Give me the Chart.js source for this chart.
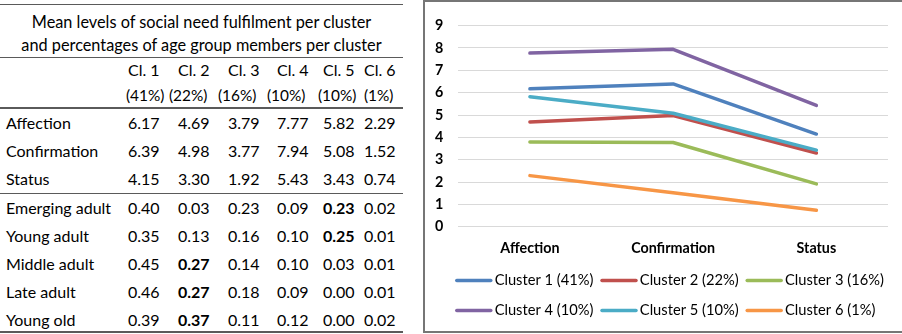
<!DOCTYPE html>
<html>
<head>
<meta charset="utf-8">
<script src="https://cdn.jsdelivr.net/npm/chart.js@4"></script>
<style>
  html, body { margin: 0; padding: 0; width: 902px; height: 334px; overflow: hidden; background: #fff; }
  #table { position: absolute; left: 0; top: 0; width: 410px; height: 334px;
           font-family: Lato, "Noto Sans", sans-serif; font-size: 16px; color: #000; }
  .rule { position: absolute; left: 0; width: 403px; background: #5a5a5a; }
  .t { position: absolute; white-space: pre; line-height: 20px; height: 20px; }
  .b { font-weight: bold; }
  .title { font-size: 16.3px; }
  .pct { font-size: 15.4px; }
  #box { position: absolute; left: 423px; top: 0; width: 500px; height: 329px; border: 2px solid #767676; }
  #chart { position: absolute; left: 425px; top: 2px; }
</style>
</head>
<body>
<div id="table"></div>
<div id="box"></div>
<canvas id="chart" width="477" height="332"></canvas>
<script>
// Social needs measured per cluster
const categories = ['Affection', 'Confirmation', 'Status'];

// Cluster labels and their share of the sample
const clusterCodes = ['Cl. 1', 'Cl. 2', 'Cl. 3', 'Cl. 4', 'Cl. 5', 'Cl. 6'];
const clusterShares = ['41%', '22%', '16%', '10%', '10%', '1%'];

// Mean need fulfilment per cluster (Affection, Confirmation, Status)
const cluster1 = [6.17, 6.39, 4.15];
const cluster2 = [4.69, 4.98, 3.30];
const cluster3 = [3.79, 3.77, 1.92];
const cluster4 = [7.77, 7.94, 5.43];
const cluster5 = [5.82, 5.08, 3.43];
const cluster6 = [2.29, 1.52, 0.74];

// Share of each age group falling in clusters 1..6
const ageGroups = ['Emerging adult', 'Young adult', 'Middle adult', 'Late adult', 'Young old'];
const emergingAdult = [0.40, 0.03, 0.23, 0.09, 0.23, 0.02];
const youngAdult    = [0.35, 0.13, 0.16, 0.10, 0.25, 0.01];
const middleAdult   = [0.45, 0.27, 0.14, 0.10, 0.03, 0.01];
const lateAdult     = [0.46, 0.27, 0.18, 0.09, 0.00, 0.01];
const youngOld      = [0.39, 0.37, 0.11, 0.12, 0.00, 0.02];
// Cluster (0-based) highlighted for each age group
const highlighted = [4, 4, 1, 1, 1];

// Y axis range
const yMin = 0, yMax = 9, yStep = 1;

const clusters = [cluster1, cluster2, cluster3, cluster4, cluster5, cluster6];
const ageShares = [emergingAdult, youngAdult, middleAdult, lateAdult, youngOld];

/* ---------- table ---------- */
const table = document.getElementById('table');
const colX = [128, 178, 228, 277, 323, 364];
const pctX = [126, 169, 218, 267, 318, 364];

function rule(y, h) {
  const d = document.createElement('div');
  d.className = 'rule';
  d.style.top = y + 'px';
  d.style.height = h + 'px';
  table.appendChild(d);
}
function text(str, x, yc, opts = {}) {
  const d = document.createElement('div');
  d.className = 't' + (opts.bold ? ' b' : '') + (opts.cls ? ' ' + opts.cls : '');
  d.textContent = str;
  d.style.top = (yc - 10) + 'px';
  if (opts.center) { d.style.left = '0px'; d.style.width = '403px'; d.style.textAlign = 'center'; }
  else d.style.left = x + 'px';
  table.appendChild(d);
  return d;
}

rule(4, 1);
text('Mean levels of social need fulfilment per cluster', 0, 22, {center: true, cls: 'title'});
text('and percentages of age group members per cluster', 0, 45, {center: true, cls: 'title'});
rule(57, 1);
clusterCodes.forEach((c, i) => text(c, colX[i], 70));
clusterShares.forEach((p, i) => text('(' + p + ')', pctX[i], 95, {cls: 'pct'}));
rule(107, 2);
categories.forEach((cat, r) => {
  const y = 123 + r * 28;
  text(cat, 6, y);
  clusters.forEach((s, i) => text(s[r].toFixed(2), colX[i], y));
});
rule(193, 1);
ageGroups.forEach((g, r) => {
  const y = 208 + r * 28;
  text(g, 6, y);
  ageShares[r].forEach((v, i) => text(v.toFixed(2), colX[i], y, {bold: highlighted[r] === i}));
});
rule(331, 2);

/* ---------- chart ---------- */
const seriesColors = ['#4f81bd', '#c0504d', '#9bbb59', '#8064a2', '#4bacc6', '#f79646'];
const seriesLabels = clusterShares.map((p, i) => 'Cluster ' + (i + 1) + ' (' + p + ')');
const legendFont = {family: 'Lato, "Noto Sans", sans-serif', size: 14.7};
const axisFont = {family: 'Lato, "Noto Sans", sans-serif', size: 14.3, weight: 'bold'};
const lineWidth = 3.5;

// Legend keys are short line segments in each series colour; the legend
// block starts just left of the plot area and may use the full canvas width.
const legendLines = {
  id: 'legendLines',
  afterLayout(chart) {
    chart.legend.left = chart.chartArea.left - 10;
    chart.legend.right = chart.width;
  },
  afterDraw(chart) {
    const lg = chart.legend;
    const c = chart.ctx;
    lg.legendItems.forEach((item, i) => {
      const hb = lg.legendHitBoxes[i];
      const y = hb.top + hb.height / 2;
      c.save();
      c.strokeStyle = chart.data.datasets[item.datasetIndex].borderColor;
      c.lineWidth = lineWidth;
      c.lineCap = 'round';
      c.beginPath();
      c.moveTo(hb.left + 1.5, y);
      c.lineTo(hb.left + 35.5, y);
      c.stroke();
      c.restore();
    });
  }
};

new Chart(document.getElementById('chart'), {
  type: 'line',
  data: {
    labels: categories,
    datasets: clusters.map((s, i) => ({
      label: seriesLabels[i],
      data: s,
      borderColor: seriesColors[i],
      backgroundColor: seriesColors[i],
      borderWidth: lineWidth,
      borderJoinStyle: 'round',
      borderCapStyle: 'round',
      pointRadius: 0,
      pointHoverRadius: 0,
      tension: 0,
      order: clusters.length - i
    }))
  },
  options: {
    responsive: false,
    animation: false,
    devicePixelRatio: 1,
    layout: { padding: { left: 10, right: 14, top: 18, bottom: 2 } },
    plugins: {
      tooltip: { enabled: false },
      legend: {
        position: 'bottom',
        align: 'start',
        labels: {
          font: legendFont,
          color: '#000',
          boxWidth: 32,
          boxHeight: 23,
          padding: 7,
          sort: (a, b) => a.datasetIndex - b.datasetIndex,
          generateLabels(chart) {
            const items = Chart.defaults.plugins.legend.labels.generateLabels(chart);
            items.forEach(it => {
              it.fillStyle = 'rgba(0,0,0,0)';
              it.strokeStyle = 'rgba(0,0,0,0)';
              it.lineWidth = 0;
            });
            return items;
          }
        }
      }
    },
    scales: {
      x: {
        offset: true,
        grid: { display: false, drawTicks: false },
        border: { display: false },
        ticks: { font: axisFont, color: '#000', padding: 13 },
        afterFit(scale) { scale.height += 5 - scale.options.ticks.padding; }
      },
      y: {
        min: yMin,
        max: yMax,
        ticks: { stepSize: yStep, autoSkip: false, font: axisFont, color: '#000', padding: 15 },
        grid: { color: '#d9d9d9', lineWidth: 1, drawTicks: false },
        border: { display: false },
        afterFit(scale) { scale.width -= scale.options.ticks.padding; }
      }
    }
  },
  plugins: [legendLines]
});
</script>
</body>
</html>
